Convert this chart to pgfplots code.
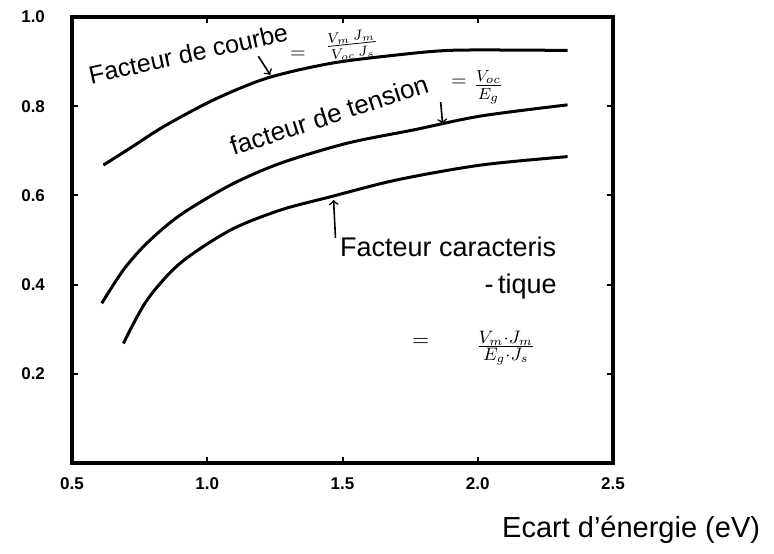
\documentclass[border=0pt]{standalone}
\usepackage{fontspec}
\setmainfont{Liberation Sans}
\usepackage{pgfplots}
\pgfplotsset{compat=1.18}

\begin{document}
\begin{tikzpicture}
% fixed page frame around the axis box (axis box lower left at the origin)
\useasboundingbox (-36pt,-45pt) rectangle (351pt,231.5pt);
\begin{axis}[
  at={(0,0)}, anchor=south west,
  scale only axis,
  width=270.5pt, height=223pt,
  xmin=0.5, xmax=2.5, ymin=0, ymax=1,
  xtick={0.5,1.0,1.5,2.0,2.5},
  ytick={0.2,0.4,0.6,0.8,1.0},
  xticklabel style={/pgf/number format/.cd,fixed,fixed zerofill,precision=1},
  yticklabel style={/pgf/number format/.cd,fixed,fixed zerofill,precision=1},
  /pgf/number format/assume math mode=true,
  ticklabel style={font=\fontsize{8.5}{10}\selectfont\bfseries},
  tick align=inside,
  major tick length=3pt,
  tick style={line width=1pt, black},
  axis line style={line width=2pt},
  xticklabel shift=4pt,
  yticklabel shift=10pt,
  clip=false,
]
% facteur de courbe
\addplot[black, line width=1.5pt, smooth] coordinates {
  (0.616,0.668) (0.715,0.706) (0.838,0.754) (1.023,0.814) (1.221,0.863)
  (1.456,0.896) (1.703,0.915) (1.888,0.925) (2.100,0.926) (2.332,0.925)
};
% facteur de tension
\addplot[black, line width=1.5pt, smooth] coordinates {
  (0.610,0.358) (0.690,0.433) (0.777,0.493) (0.900,0.556) (1.085,0.623)
  (1.270,0.672) (1.517,0.717) (1.764,0.747) (2.011,0.778) (2.332,0.803)
};
% facteur caracteristique
\addplot[black, line width=1.5pt, smooth] coordinates {
  (0.690,0.268) (0.777,0.365) (0.900,0.448) (1.085,0.522) (1.270,0.567)
  (1.456,0.597) (1.703,0.635) (2.011,0.668) (2.332,0.687)
};

% annotations
\node[rotate=12.5, font=\fontsize{12.5}{14}\selectfont] at (axis cs:0.930,0.918) {Facteur de courbe};
\node[font=\fontsize{10}{12}\selectfont] at (axis cs:1.335,0.915) {$=$};
\node[rotate=6, font=\fontsize{10.5}{12}\selectfont] at (axis cs:1.535,0.937) {$\frac{V_m\,J_m}{V_{oc}\,J_s}$};
\draw[->, line width=0.8pt] (axis cs:1.189,0.912) -- (axis cs:1.233,0.870);

\node[rotate=18, font=\fontsize{13}{15}\selectfont] at (axis cs:1.450,0.780) {facteur de tension};
\node[font=\fontsize{10}{12}\selectfont] at (axis cs:1.930,0.852) {$=$};
\node[font=\fontsize{12}{14}\selectfont] at (axis cs:2.040,0.843) {$\frac{V_{oc}}{E_g}$};
\draw[->, line width=0.8pt] (axis cs:1.863,0.809) -- (axis cs:1.870,0.760);

\node[anchor=base west, font=\fontsize{13.5}{15}\selectfont] at (axis cs:1.465,0.462) {Facteur caracteris};
\node[font=\fontsize{13.5}{15}\selectfont] at (axis cs:2.159,0.395) {-\,tique};
\node[font=\fontsize{11}{12}\selectfont] at (axis cs:1.789,0.271) {$=$};
\node[font=\fontsize{13}{15}\selectfont] at (axis cs:2.104,0.258) {$\frac{V_m\cdot J_m}{E_g\cdot J_s}$};
\draw[->, line width=0.8pt] (axis cs:1.474,0.505) -- (axis cs:1.467,0.590);

\node[font=\fontsize{14.5}{16}\selectfont] at (axis cs:2.567,-0.150) {Ecart d'énergie (eV)};
\end{axis}
\end{tikzpicture}
\end{document}
